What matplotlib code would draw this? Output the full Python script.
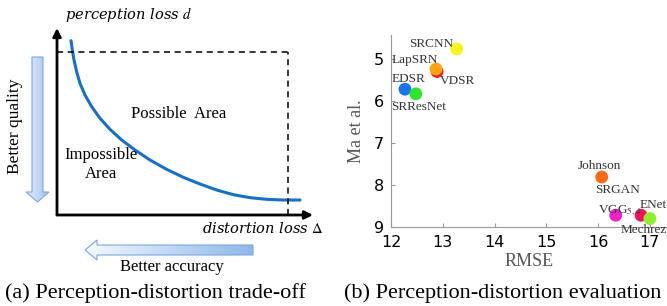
import numpy as np
import matplotlib
matplotlib.use("Agg")
import matplotlib.pyplot as plt
from matplotlib.patches import Polygon

plt.rcParams["mathtext.fontset"] = "stix"

# (a) conceptual trade-off curve, normalised units
curve_x = [0.0547, 0.0599, 0.0664, 0.0768, 0.0898, 0.1094, 0.1354, 0.1680, 0.2070, 0.2526, 0.3047,
           0.3633, 0.4284, 0.4935, 0.5586, 0.6237, 0.6888, 0.7539, 0.8190, 0.8841, 0.9492]
curve_y = [0.9323, 0.8824, 0.8289, 0.7665, 0.7041, 0.6417, 0.5793, 0.5170, 0.4581, 0.4011, 0.3476,
           0.2941, 0.2442, 0.2014, 0.1658, 0.1337, 0.1087, 0.0927, 0.0838, 0.0802, 0.0802]
box_x = 0.902
box_y = 0.872

# (b) perception-distortion evaluation
methods = ["SRCNN", "LapSRN", "VDSR", "EDSR", "SRResNet", "Johnson", "SRGAN", "ENet", "Mechrez"]
rmse = [13.27, 12.87, 12.89, 12.27, 12.48, 16.07, 16.34, 16.83, 17.00]
ma = [4.76, 5.24, 5.30, 5.72, 5.83, 7.81, 8.72, 8.72, 8.80]
colors = ["#f5f51a", "#ffa312", "#f01e1e", "#1a73f0", "#2ee62e", "#ff6a10", "#f020c8", "#f5105a", "#8ef02a"]
draw_order = [0, 2, 1, 3, 4, 5, 6, 7, 8]
x_ticks = [12, 13, 14, 15, 16, 17]
y_ticks = [5, 6, 7, 8, 9]

W, H = 667, 306
fig = plt.figure(figsize=(W / 100, H / 100), dpi=100)

def box(x0, y0, x1, y1):
    # pixel box (top-left origin) -> figure fraction rect
    return [x0 / W, 1 - y1 / H, (x1 - x0) / W, (y1 - y0) / H]

serif = "Liberation Serif"

# ---------- overlay in pixel coords for decorations ----------
over = fig.add_axes([0, 0, 1, 1])
over.set_xlim(0, W)
over.set_ylim(H, 0)
over.axis("off")

def grad_arrow(pts, c0, c1, edge):
    poly = Polygon(pts, closed=True, facecolor="none", edgecolor=edge, lw=0.8, zorder=3)
    over.add_patch(poly)
    xs = [p[0] for p in pts]
    ys = [p[1] for p in pts]
    g = np.linspace(0, 1, 64).reshape(1, -1)
    cmap = matplotlib.colors.LinearSegmentedColormap.from_list("g", [c0, c1])
    im = over.imshow(g, extent=(min(xs), max(xs), max(ys), min(ys)), cmap=cmap,
                     aspect="auto", zorder=2, origin="upper")
    im.set_clip_path(poly)

# down arrow (Better quality)
grad_arrow([(32, 57), (43, 57), (43, 192), (49, 192), (37.5, 202), (26, 192), (32, 192)],
           "#e3edfb", "#a3c4ef", "#7fa6d8")
# left arrow (Better accuracy)
grad_arrow([(253, 245), (97, 245), (97, 240), (85, 250), (97, 260), (97, 255), (253, 255)],
           "#f4f8fe", "#8fb8ea", "#7fa6d8")

over.text(15, 126, "Better quality", rotation=90, ha="center", va="center",
          family=serif, fontsize=12.5)
over.text(172, 267, "Better accuracy", ha="center", va="center", family=serif, fontsize=12)
over.text(155, 293, "(a) Perception-distortion trade-off", ha="center", va="center",
          family=serif, fontsize=16)
over.text(503, 293, "(b) Perception-distortion evaluation", ha="center", va="center",
          family=serif, fontsize=16)

# ---------- (a) ----------
axa = fig.add_axes(box(57, 28, 313, 215))
axa.set_xlim(0, 1)
axa.set_ylim(0, 1)
axa.axis("off")
axa.plot(curve_x, curve_y, color="#1670c8", lw=2.2, solid_capstyle="round")
axa.plot([0, box_x], [box_y, box_y], "k--", lw=1.1, dashes=(4, 3))
axa.plot([box_x, box_x], [0, box_y], "k--", lw=1.1, dashes=(4, 3))
axa.annotate("", xy=(1.0, 0), xytext=(0, 0),
             arrowprops=dict(arrowstyle="-|>", color="black", lw=2, mutation_scale=12, shrinkA=0, shrinkB=0))
axa.annotate("", xy=(0, 1.0), xytext=(0, 0),
             arrowprops=dict(arrowstyle="-|>", color="black", lw=2, mutation_scale=12, shrinkA=0, shrinkB=0))
axa.text(0.03, 1.07, "perception loss $d$", style="italic", family="DejaVu Serif",
         fontsize=10.5, ha="left", va="center")
axa.text(1.04, -0.07, "distortion loss $\\Delta$", style="italic", family="DejaVu Serif",
         fontsize=10.5, ha="right", va="center")
axa.text(0.475, 0.54, "Possible  Area", family=serif, fontsize=12, ha="center", va="center")
axa.text(0.17, 0.27, "Impossible\nArea", family=serif, fontsize=12, ha="center", va="center",
         linespacing=1.3)

# ---------- (b) ----------
axb = fig.add_axes(box(391, 35, 668, 227))
for i in draw_order:
    axb.scatter(rmse[i], ma[i], s=85, color=colors[i], edgecolors="none", zorder=3, clip_on=False)
axb.set_xlim(12, 17.35)
axb.set_ylim(9, 4.43)
axb.set_xticks(x_ticks)
axb.set_yticks(y_ticks)
axb.tick_params(direction="in", length=3, color="#999999", labelsize=11.5)
axb.tick_params(axis="x", pad=6)
axb.tick_params(axis="y", pad=5)
for s in ["top", "right"]:
    axb.spines[s].set_visible(False)
for s in ["left", "bottom"]:
    axb.spines[s].set_color("#999999")
    axb.spines[s].set_linewidth(0.8)
axb.set_xlabel("RMSE", family=serif, fontsize=13, color="#555555", labelpad=2)
axb.set_ylabel("Ma et al.", family=serif, fontsize=13, color="#555555", labelpad=6)

lab = dict(family=serif, fontsize=9.5, color="#333333", clip_on=False)
axb.text(13.2, 4.64, "SRCNN", ha="right", va="center", **lab)
axb.text(12.02, 5.03, "LapSRN", ha="left", va="center", **lab)
axb.text(12.95, 5.53, "VDSR", ha="left", va="center", **lab)
axb.text(12.02, 5.48, "EDSR", ha="left", va="center", **lab)
axb.text(12.0, 6.14, "SRResNet", ha="left", va="center", **lab)
axb.text(16.02, 7.55, "Johnson", ha="center", va="center", **lab)
axb.text(16.38, 8.12, "SRGAN", ha="center", va="center", **lab)
axb.text(16.0, 8.6, "VGG$_{5,4}$", ha="left", va="center", **lab)
axb.text(17.33, 8.48, "ENet", ha="right", va="center", **lab)
axb.text(17.33, 9.07, "Mechrez", ha="right", va="center", **lab)

fig.savefig("out.png", dpi=100)
